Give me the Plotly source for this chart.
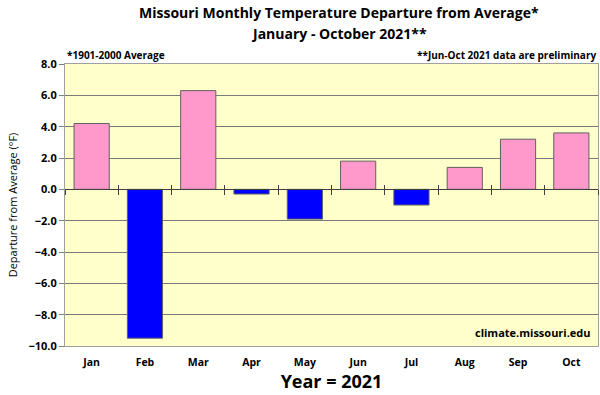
import plotly.graph_objects as go

months = ["Jan", "Feb", "Mar", "Apr", "May", "Jun", "Jul", "Aug", "Sep", "Oct"]
departures = [4.2, -9.5, 6.3, -0.3, -1.9, 1.8, -1.0, 1.4, 3.2, 3.6]
y_ticks = [8, 6, 4, 2, 0, -2, -4, -6, -8, -10]

colors = ["#FF99CC" if v >= 0 else "#0000FF" for v in departures]
FONT = "Open Sans"

fig = go.Figure()
fig.add_trace(go.Bar(
    x=months, y=departures, width=0.66,
    marker=dict(color=colors, line=dict(color="#606060", width=1)),
    showlegend=False,
))

zero_pos = (0 - (-10)) / 18.0

fig.update_layout(
    width=600, height=395,
    margin=dict(l=65, r=2, t=64, b=49),
    paper_bgcolor="white", plot_bgcolor="#FFFFCC",
    font=dict(family=FONT, color="black"),
    xaxis=dict(
        categoryorder="array", categoryarray=months,
        showline=True, linecolor="#A0A0A0", mirror=True,
        ticks="", showgrid=False,
        tickfont=dict(size=10.5, family=FONT, weight="bold"),
        ticklabelstandoff=6,
        title=dict(text="<b>Year = 2021</b>", font=dict(size=18, family=FONT), standoff=4),
    ),
    xaxis2=dict(
        overlaying="x", matches="x", anchor="free", position=zero_pos,
        showline=True, linecolor="#404040", linewidth=1,
        ticks="outside", ticklen=5, tickcolor="#404040", tickson="boundaries",
        showticklabels=False, showgrid=False,
        categoryorder="array", categoryarray=months,
    ),
    xaxis3=dict(
        overlaying="x", matches="x", anchor="free", position=zero_pos,
        showline=False,
        ticks="inside", ticklen=4, tickcolor="#404040", tickson="boundaries",
        showticklabels=False, showgrid=False,
        categoryorder="array", categoryarray=months,
    ),
    yaxis=dict(
        range=[-10, 8], tickvals=y_ticks, tickformat=".1f",
        showline=True, linecolor="#A0A0A0", mirror=True,
        ticks="outside", ticklen=5, tickcolor="#808080",
        showgrid=True, gridcolor="#7A7A7A", gridwidth=1,
        zeroline=False,
        tickfont=dict(size=11, family=FONT, weight="bold"),
        title=dict(text="Departure from Average (°F)", font=dict(size=11, family=FONT), standoff=8),
    ),
)

# invisible traces to activate overlay axes
fig.add_trace(go.Bar(x=months, y=[None]*len(months), xaxis="x2", showlegend=False, hoverinfo="skip"))
fig.add_trace(go.Bar(x=months, y=[None]*len(months), xaxis="x3", showlegend=False, hoverinfo="skip"))

fig.add_annotation(text="<b>Missouri Monthly Temperature Departure from Average*</b>",
                   xref="paper", yref="paper", x=0.515, y=1, yshift=52,
                   xanchor="center", yanchor="middle", showarrow=False,
                   font=dict(size=14, family=FONT))
fig.add_annotation(text="<b>January - October 2021**</b>",
                   xref="paper", yref="paper", x=0.515, y=1, yshift=31,
                   xanchor="center", yanchor="middle", showarrow=False,
                   font=dict(size=14, family=FONT))
fig.add_annotation(text="<b>*1901-2000 Average</b>", xref="paper", yref="paper",
                   x=0, y=1.0, xanchor="left", yanchor="bottom",
                   showarrow=False, font=dict(size=10, family=FONT))
fig.add_annotation(text="<b>**Jun-Oct 2021 data are preliminary</b>", xref="paper", yref="paper",
                   x=1, y=1.0, xanchor="right", yanchor="bottom",
                   showarrow=False, font=dict(size=10, family=FONT))
fig.add_annotation(text="<b>climate.missouri.edu</b>", xref="paper", yref="paper",
                   x=0.99, y=0.015, xanchor="right", yanchor="bottom",
                   showarrow=False, font=dict(size=11, family=FONT))

fig.write_html("out.html", config={"displayModeBar": False},
               post_script="document.body.style.margin='0';document.body.style.overflow='hidden';")
